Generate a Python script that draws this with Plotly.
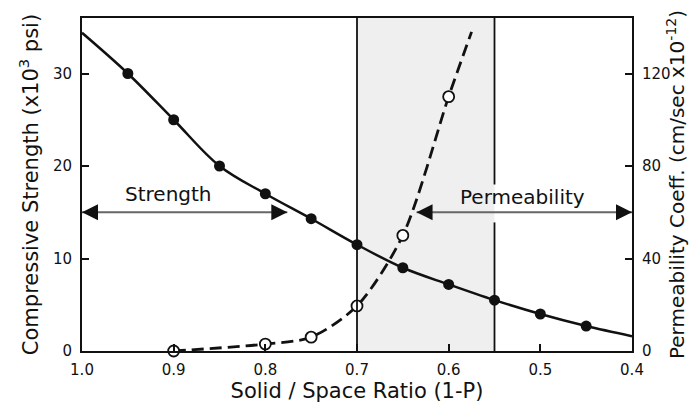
import plotly.graph_objects as go

# ---- data ----
strength_x = [0.95, 0.90, 0.85, 0.80, 0.75, 0.70, 0.65, 0.60, 0.55, 0.50, 0.45]
strength_y = [30.0, 25.0, 20.0, 17.0, 14.3, 11.5, 9.0, 7.2, 5.5, 4.0, 2.7]
strength_curve_x = [1.0] + strength_x + [0.40]
strength_curve_y = [34.4] + strength_y + [1.6]

perm_x = [0.90, 0.80, 0.75, 0.70, 0.65, 0.60]
perm_y = [0.0, 3.0, 6.0, 19.5, 50.0, 110.0]
perm_curve_x = perm_x + [0.575]
perm_curve_y = perm_y + [138.0]

x_ticks = [1.0, 0.9, 0.8, 0.7, 0.6, 0.5, 0.4]
x_ticklabels = ["1.0", "0.9", "0.8", "0.7", "0.6", "0.5", "0.4"]
left_ticks = [0, 10, 20, 30]
right_ticks = [0, 40, 80, 120]

region = [0.70, 0.55]          # shaded zone
strength_arrow = [1.0, 0.776]  # x extent of "Strength" arrow
perm_arrow = [0.635, 0.40]     # x extent of "Permeability" arrow
arrow_level = 15.0             # on strength axis
gap = [13.9, 18.0]             # gap in 0.55 line (strength axis)

FONT = "DejaVu Sans"
INK = "#111111"

fig = go.Figure()

# shaded region
fig.add_shape(type="rect", xref="x", yref="y", x0=region[0], x1=region[1],
              y0=0, y1=36, fillcolor="#efefef", line_width=0, layer="below")
# vertical lines
fig.add_shape(type="line", xref="x", yref="y", x0=region[0], x1=region[0],
              y0=0, y1=36, line=dict(color=INK, width=1.8))
fig.add_shape(type="line", xref="x", yref="y", x0=region[1], x1=region[1],
              y0=0, y1=gap[0], line=dict(color=INK, width=1.8))
fig.add_shape(type="line", xref="x", yref="y", x0=region[1], x1=region[1],
              y0=gap[1], y1=36, line=dict(color=INK, width=1.8))

# strength curve
fig.add_trace(go.Scatter(x=strength_curve_x, y=strength_curve_y, mode="lines",
                         line=dict(color=INK, width=2.5, shape="spline", smoothing=1.0),
                         hoverinfo="skip", showlegend=False))
fig.add_trace(go.Scatter(x=strength_x, y=strength_y, mode="markers",
                         marker=dict(color=INK, size=11, symbol="circle"),
                         showlegend=False))

# permeability curve
fig.add_trace(go.Scatter(x=perm_curve_x, y=perm_curve_y, mode="lines", yaxis="y2",
                         line=dict(color=INK, width=2.8, dash="12px,6px", shape="spline", smoothing=0.8),
                         hoverinfo="skip", showlegend=False))
fig.add_trace(go.Scatter(x=perm_x, y=perm_y, mode="markers", yaxis="y2",
                         marker=dict(color="white", size=11, symbol="circle",
                                     line=dict(color=INK, width=1.8)),
                         cliponaxis=False, showlegend=False))

# double-headed arrows
def double_arrow(x0, x1):
    fig.add_trace(go.Scatter(x=[x0, x1], y=[arrow_level, arrow_level], mode="lines",
                             line=dict(color="#666666", width=1.8),
                             hoverinfo="skip", showlegend=False))
    fig.add_trace(go.Scatter(x=[x0, x1], y=[arrow_level, arrow_level], mode="markers",
                             marker=dict(symbol=["arrow-left", "arrow-right"], size=16,
                                         color=INK, line=dict(width=0)),
                             cliponaxis=False, hoverinfo="skip", showlegend=False))

double_arrow(*strength_arrow)
double_arrow(*perm_arrow)

fig.add_annotation(x=0.906, y=17.0, xref="x", yref="y", text="Strength",
                   showarrow=False, font=dict(family=FONT, size=20, color=INK))
fig.add_annotation(x=0.519, y=16.7, xref="x", yref="y", text="Permeability",
                   showarrow=False, font=dict(family=FONT, size=20, color=INK))

axis_common = dict(showgrid=False, zeroline=False, showline=True, linecolor=INK,
                   linewidth=2, ticks="inside", ticklen=7, tickwidth=1.5,
                   tickcolor=INK, tickfont=dict(family=FONT, size=15, color=INK))

fig.update_layout(
    width=689, height=407,
    margin=dict(l=82, r=57, t=18, b=56, autoexpand=False),
    paper_bgcolor="white", plot_bgcolor="white",
    font=dict(family=FONT, color=INK),
    xaxis=dict(range=[1.0, 0.4], tickvals=x_ticks, ticktext=x_ticklabels,
               mirror=True, ticklabelstandoff=4,
               title=dict(text="Solid / Space Ratio (1-P)", font=dict(family=FONT, size=21), standoff=0),
               **axis_common),
    yaxis=dict(range=[0, 36], tickvals=left_ticks, ticklabelstandoff=5,
               title=dict(text="Compressive Strength (x10<sup>3</sup> psi)", font=dict(family=FONT, size=21), standoff=9),
               **axis_common),
    yaxis2=dict(range=[0, 144], tickvals=right_ticks, overlaying="y", side="right",
                ticklabelstandoff=5,
                title=dict(text="Permeability Coeff. (cm/sec x10<sup>-12</sup>)", font=dict(family=FONT, size=20), standoff=4),
                **axis_common),
)

fig.write_html("out.html", config={"displayModeBar": False},
               post_script="document.body.style.margin='0';")
